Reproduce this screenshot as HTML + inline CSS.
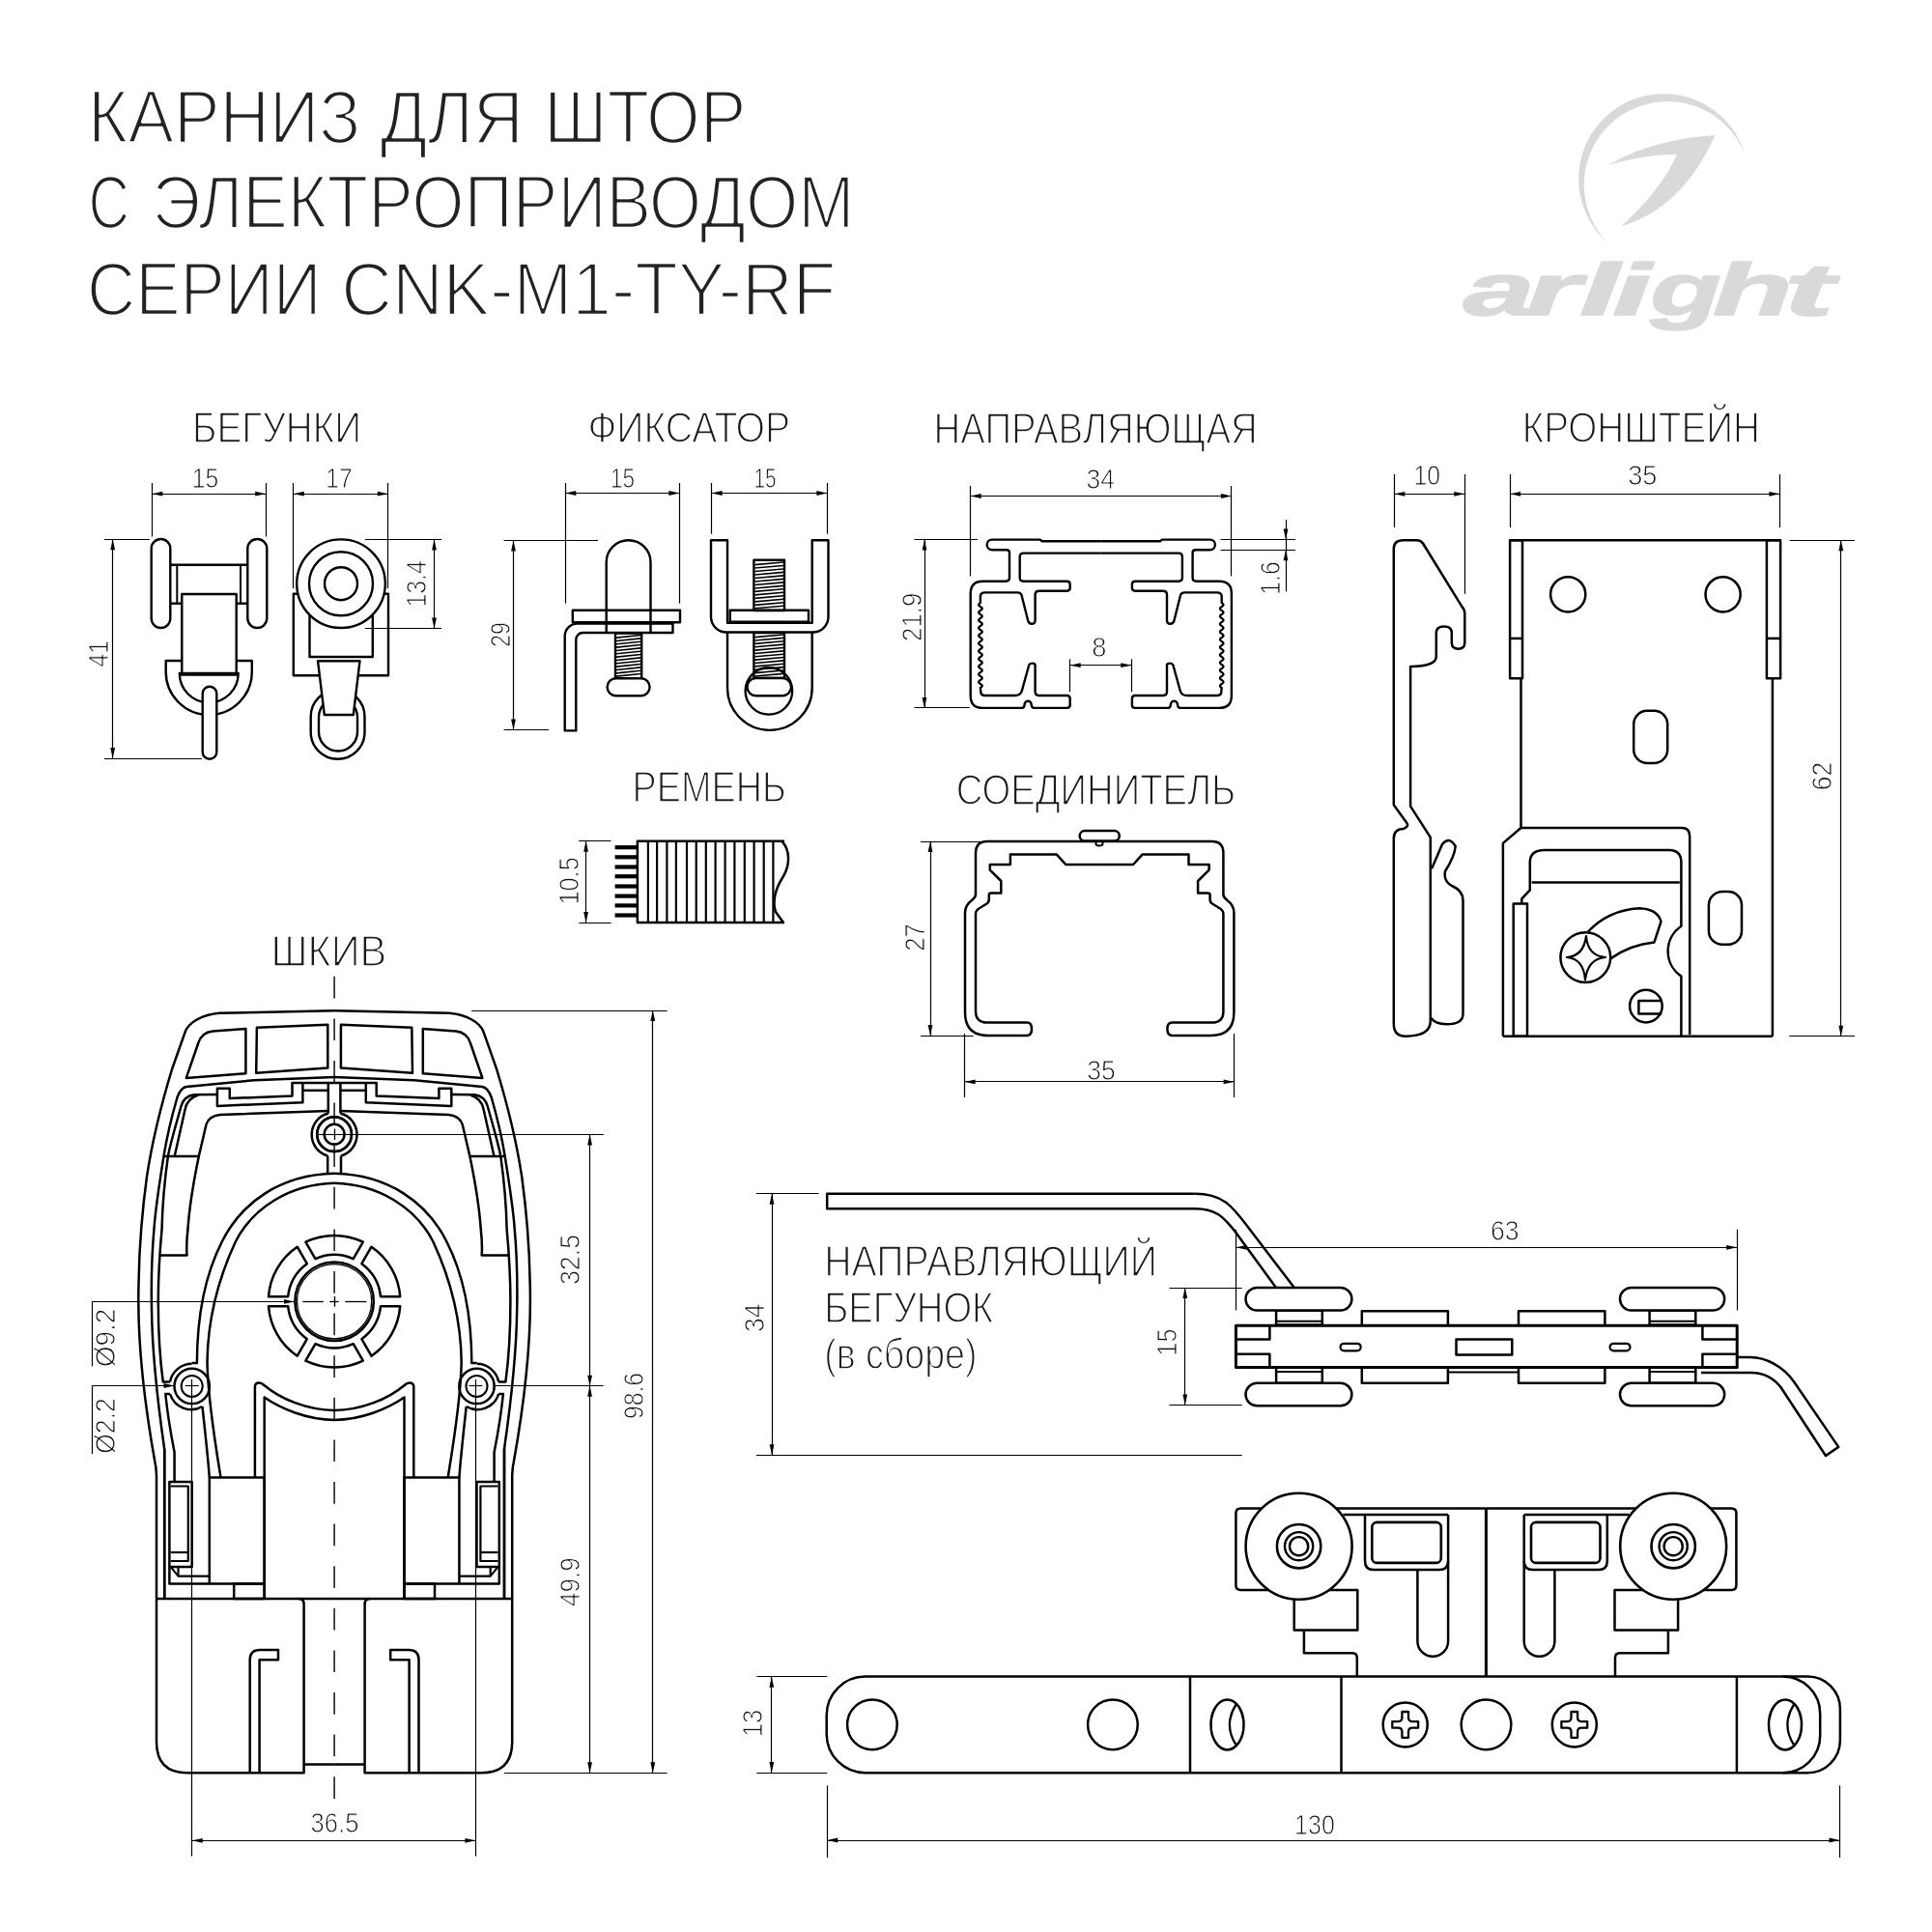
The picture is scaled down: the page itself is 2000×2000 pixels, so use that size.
<!DOCTYPE html>
<html><head><meta charset="utf-8"><title>CNK-M1-TY-RF</title>
<style>
html,body{margin:0;padding:0;background:#fff;width:2000px;height:2000px;overflow:hidden}
svg{display:block;will-change:transform}
.t{font-family:"Liberation Sans",sans-serif;fill:#111;stroke:none}
.h1{font-family:"Liberation Sans",sans-serif;fill:#222;stroke:#fff;stroke-width:2.6px;}
.h2{font-family:"Liberation Sans",sans-serif;fill:#1a1a1a;stroke:#fff;stroke-width:1.5px}
.d{font-family:"Liberation Sans",sans-serif;fill:#111;stroke:#fff;stroke-width:0.9px}
</style></head>
<body><svg width="2000" height="2000" viewBox="0 0 2000 2000">
<rect x="0" y="0" width="2000" height="2000" fill="#fff"/>
<g stroke="#000" fill="none" stroke-linecap="butt" stroke-linejoin="round">
<text class="h1" x="91" y="147.5" font-size="77" text-anchor="start" textLength="282.25" lengthAdjust="spacingAndGlyphs" >КАРНИЗ</text>
<text class="h1" x="393.5" y="147.5" font-size="77" text-anchor="start" textLength="148.5" lengthAdjust="spacingAndGlyphs" >ДЛЯ</text>
<text class="h1" x="563" y="147.5" font-size="77" text-anchor="start" textLength="209.5" lengthAdjust="spacingAndGlyphs" >ШТОР</text>
<text class="h1" x="91.5" y="236" font-size="77" text-anchor="start" textLength="42.5" lengthAdjust="spacingAndGlyphs" >С</text>
<text class="h1" x="157.5" y="236" font-size="77" text-anchor="start" textLength="727" lengthAdjust="spacingAndGlyphs" >ЭЛЕКТРОПРИВОДОМ</text>
<text class="h1" x="90" y="325.5" font-size="77" text-anchor="start" textLength="242.75" lengthAdjust="spacingAndGlyphs" >СЕРИИ</text>
<text class="h1" x="353.25" y="325.5" font-size="77" text-anchor="start" textLength="512" lengthAdjust="spacingAndGlyphs" >CNK-M1-TY-RF</text>
<path d="M1663.6,250.8 A88,88 0 1 1 1806.4,159.7 A86.3,86.3 0 1 0 1663.6,250.8 Z" fill="#d9d9d9" stroke="none"/>
<path d="M1665.6,171.1 C1690,155 1730,143 1775.4,140 C1760,175 1730,220 1678,234.2 C1705,210 1725,185 1736,159.7 C1715,160 1690,163 1665.6,171.1 Z" fill="#d9d9d9" stroke="none"/>
<text transform="translate(1514.85,325.6) scale(1.7494,1)" x="0" y="0" font-size="76" font-weight="bold" font-style="italic" style="font-family:'Liberation Sans',sans-serif;fill:#d9d9d9;stroke:#d9d9d9;stroke-width:1.5">a</text>
<text transform="translate(1579.30,325.6) scale(1.9257,1)" x="0" y="0" font-size="76" font-weight="bold" font-style="italic" style="font-family:'Liberation Sans',sans-serif;fill:#d9d9d9;stroke:#d9d9d9;stroke-width:1.5">r</text>
<text transform="translate(1635.15,325.6) scale(1.9607,1)" x="0" y="0" font-size="76" font-weight="bold" font-style="italic" style="font-family:'Liberation Sans',sans-serif;fill:#d9d9d9;stroke:#d9d9d9;stroke-width:1.5">l</text>
<text transform="translate(1669.31,325.6) scale(1.9133,1)" x="0" y="0" font-size="76" font-weight="bold" font-style="italic" style="font-family:'Liberation Sans',sans-serif;fill:#d9d9d9;stroke:#d9d9d9;stroke-width:1.5">i</text>
<text transform="translate(1708.41,325.6) scale(1.5754,1)" x="0" y="0" font-size="76" font-weight="bold" font-style="italic" style="font-family:'Liberation Sans',sans-serif;fill:#d9d9d9;stroke:#d9d9d9;stroke-width:1.5">g</text>
<text transform="translate(1773.09,325.6) scale(1.7766,1)" x="0" y="0" font-size="76" font-weight="bold" font-style="italic" style="font-family:'Liberation Sans',sans-serif;fill:#d9d9d9;stroke:#d9d9d9;stroke-width:1.5">h</text>
<text transform="translate(1846.41,325.6) scale(2.0635,1)" x="0" y="0" font-size="76" font-weight="bold" font-style="italic" style="font-family:'Liberation Sans',sans-serif;fill:#d9d9d9;stroke:#d9d9d9;stroke-width:1.5">t</text>
<text class="h2" x="199.1" y="457.6" font-size="43.5" text-anchor="start" textLength="175" lengthAdjust="spacingAndGlyphs" >БЕГУНКИ</text>
<text class="d" x="198.7" y="504.6" font-size="29" text-anchor="start" textLength="27.5" lengthAdjust="spacingAndGlyphs" >15</text>
<text class="d" x="337.2" y="504.6" font-size="29" text-anchor="start" textLength="27.5" lengthAdjust="spacingAndGlyphs" >17</text>
<line x1="157.4" y1="511.5" x2="275.2" y2="511.5" stroke-width="1.2" />
<path d="M157.4,511.2 L168.4,508.8 L168.4,513.6 Z" fill="#000" stroke="none"/>
<path d="M275.2,511.2 L264.2,513.6 L264.2,508.8 Z" fill="#000" stroke="none"/>
<line x1="303.8" y1="511.5" x2="401.8" y2="511.5" stroke-width="1.2" />
<path d="M303.8,511.2 L314.8,508.8 L314.8,513.6 Z" fill="#000" stroke="none"/>
<path d="M401.8,511.2 L390.8,513.6 L390.8,508.8 Z" fill="#000" stroke="none"/>
<line x1="157.5" y1="500" x2="157.5" y2="555.5" stroke-width="1.2" />
<line x1="275.5" y1="500" x2="275.5" y2="555.5" stroke-width="1.2" />
<line x1="303.5" y1="500" x2="303.5" y2="609" stroke-width="1.2" />
<line x1="401.5" y1="500" x2="401.5" y2="609" stroke-width="1.2" />
<line x1="116.5" y1="558.3" x2="116.5" y2="785" stroke-width="1.2" />
<path d="M116.7,558.3 L119.1,569.3 L114.3,569.3 Z" fill="#000" stroke="none"/>
<path d="M116.7,785 L114.3,774 L119.1,774 Z" fill="#000" stroke="none"/>
<line x1="108" y1="558.5" x2="155" y2="558.5" stroke-width="1.2" />
<line x1="108" y1="785.5" x2="209" y2="785.5" stroke-width="1.2" />
<text class="d" x="101.7" y="686.68" font-size="29" text-anchor="middle" textLength="27.5" lengthAdjust="spacingAndGlyphs" transform="rotate(-90 101.7 676.7)">41</text>
<line x1="176.3" y1="584.7" x2="256.3" y2="584.7" stroke-width="2.4" />
<line x1="176.3" y1="624.7" x2="188.3" y2="624.7" stroke-width="2.4" />
<line x1="244.7" y1="624.7" x2="256.3" y2="624.7" stroke-width="2.4" />
<line x1="183.3" y1="584.7" x2="183.3" y2="624.7" stroke-width="2" />
<line x1="249" y1="584.7" x2="249" y2="624.7" stroke-width="2" />
<rect x="156.7" y="558" width="19.6" height="92" rx="9.8" stroke-width="2.4" fill="#fff" />
<rect x="256.3" y="558" width="20" height="92" rx="10" stroke-width="2.4" fill="#fff" />
<rect x="188.3" y="615" width="56.4" height="83.3" rx="0" stroke-width="2.4" fill="#fff" />
<path d="M188.3,684 H171.7 V695.5 A44.55,44.55 0 0 0 260.8,695.5 V684 H244.7" stroke-width="2.4" fill="none" />
<path d="M185.8,697 A30.45,30.45 0 0 0 246.7,697 Z" stroke-width="2.4" fill="#fff" />
<line x1="185.8" y1="698.3" x2="246.7" y2="698.3" stroke-width="2.8" />
<rect x="209.7" y="710.8" width="14.6" height="75" rx="7.3" stroke-width="2.4" fill="#fff" />
<rect x="303.8" y="614.7" width="98.2" height="84.5" rx="0" stroke-width="2.4" fill="none" />
<rect x="320.5" y="630" width="65.3" height="50" rx="0" stroke-width="2.4" fill="none" />
<circle cx="353" cy="604.2" r="45.8" stroke-width="2.4" fill="#fff" />
<circle cx="353" cy="604.2" r="33" stroke-width="2.4" fill="none" />
<circle cx="353" cy="604.2" r="17" stroke-width="2.4" fill="none" />
<rect x="321.7" y="714" width="55.8" height="71.8" rx="27.9" stroke-width="2.4" fill="none" />
<rect x="330" y="722.5" width="40" height="55" rx="20" stroke-width="2.4" fill="none" />
<path d="M329,684.2 H372.5 L365.8,740 H335.8 Z" stroke-width="2.4" fill="#fff" />
<line x1="377.9" y1="558.5" x2="457.1" y2="558.5" stroke-width="1.2" />
<line x1="377.9" y1="650.5" x2="457.1" y2="650.5" stroke-width="1.2" />
<line x1="449.5" y1="558.5" x2="449.5" y2="650.4" stroke-width="1.2" />
<path d="M449.5,558.5 L451.9,569.5 L447.1,569.5 Z" fill="#000" stroke="none"/>
<path d="M449.5,650.4 L447.1,639.4 L451.9,639.4 Z" fill="#000" stroke="none"/>
<text class="d" x="431.5" y="614.38" font-size="29" text-anchor="middle" textLength="48.3" lengthAdjust="spacingAndGlyphs" transform="rotate(-90 431.5 604.4)">13.4</text>
<text class="h2" x="608.5" y="457.9" font-size="43.5" text-anchor="start" textLength="209.7" lengthAdjust="spacingAndGlyphs" >ФИКСАТОР</text>
<text class="d" x="631.9" y="504.6" font-size="29" text-anchor="start" textLength="25.2" lengthAdjust="spacingAndGlyphs" >15</text>
<text class="d" x="780.5" y="504.6" font-size="29" text-anchor="start" textLength="23.2" lengthAdjust="spacingAndGlyphs" >15</text>
<line x1="585.3" y1="510.5" x2="703.4" y2="510.5" stroke-width="1.2" />
<path d="M585.3,510.5 L596.3,508.1 L596.3,512.9 Z" fill="#000" stroke="none"/>
<path d="M703.4,510.5 L692.4,512.9 L692.4,508.1 Z" fill="#000" stroke="none"/>
<line x1="736.6" y1="510.5" x2="856.4" y2="510.5" stroke-width="1.2" />
<path d="M736.6,510.5 L747.6,508.1 L747.6,512.9 Z" fill="#000" stroke="none"/>
<path d="M856.4,510.5 L845.4,512.9 L845.4,508.1 Z" fill="#000" stroke="none"/>
<line x1="585.5" y1="500" x2="585.5" y2="624.6" stroke-width="1.2" />
<line x1="703.5" y1="500" x2="703.5" y2="624.6" stroke-width="1.2" />
<line x1="736.5" y1="500" x2="736.5" y2="552.7" stroke-width="1.2" />
<line x1="856.5" y1="500" x2="856.5" y2="552.7" stroke-width="1.2" />
<line x1="531.5" y1="559.6" x2="531.5" y2="755.4" stroke-width="1.2" />
<path d="M531.5,559.6 L533.9,570.6 L529.1,570.6 Z" fill="#000" stroke="none"/>
<path d="M531.5,755.4 L529.1,744.4 L533.9,744.4 Z" fill="#000" stroke="none"/>
<line x1="521.6" y1="559.5" x2="619" y2="559.5" stroke-width="1.2" />
<line x1="521.6" y1="755.5" x2="568" y2="755.5" stroke-width="1.2" />
<text class="d" x="518.4" y="666.98" font-size="29" text-anchor="middle" textLength="25.5" lengthAdjust="spacingAndGlyphs" transform="rotate(-90 518.4 657)">29</text>
<path d="M584.7,756.4 V658.6 A13,13 0 0 1 597.7,645.6 H696.5 V655 H603.3 A7,7 0 0 0 596.3,662 V756.4 Z" stroke-width="2.4" fill="none" />
<rect x="592.8" y="631.7" width="111.2" height="12.6" rx="0" stroke-width="2.4" fill="none" />
<path d="M627.7,654.5 V582.1 A22.9,22.9 0 0 1 673.5,582.1 V654.5" stroke-width="2.4" fill="none" />
<rect x="637" y="655.5" width="27.2" height="46.7" rx="0" stroke-width="2.4" fill="none" />
<line x1="638" y1="660.14" x2="663.2" y2="657.54" stroke-width="1.6" />
<line x1="638" y1="663.47" x2="663.2" y2="660.87" stroke-width="1.6" />
<line x1="638" y1="666.81" x2="663.2" y2="664.21" stroke-width="1.6" />
<line x1="638" y1="670.14" x2="663.2" y2="667.54" stroke-width="1.6" />
<line x1="638" y1="673.48" x2="663.2" y2="670.88" stroke-width="1.6" />
<line x1="638" y1="676.81" x2="663.2" y2="674.21" stroke-width="1.6" />
<line x1="638" y1="680.15" x2="663.2" y2="677.55" stroke-width="1.6" />
<line x1="638" y1="683.49" x2="663.2" y2="680.89" stroke-width="1.6" />
<line x1="638" y1="686.82" x2="663.2" y2="684.22" stroke-width="1.6" />
<line x1="638" y1="690.16" x2="663.2" y2="687.56" stroke-width="1.6" />
<line x1="638" y1="693.49" x2="663.2" y2="690.89" stroke-width="1.6" />
<line x1="638" y1="696.83" x2="663.2" y2="694.23" stroke-width="1.6" />
<line x1="638" y1="700.16" x2="663.2" y2="697.56" stroke-width="1.6" />
<rect x="628.6" y="702.2" width="44" height="18.1" rx="9" stroke-width="2.4" fill="#fff" />
<path d="M736,559.2 V638.5 A16,16 0 0 0 752,654.5 H841.5 A16,16 0 0 0 857.5,638.5 V559.2 H840.7 V644.8 H753 V559.2 Z" stroke-width="2.4" fill="none" />
<rect x="755.7" y="631.7" width="81.3" height="12" rx="0" stroke-width="2.4" fill="none" />
<rect x="780.4" y="579.8" width="31.6" height="52.2" rx="0" stroke-width="2.4" fill="none" />
<line x1="781.4" y1="584.58" x2="811" y2="581.98" stroke-width="1.6" />
<line x1="781.4" y1="588.06" x2="811" y2="585.46" stroke-width="1.6" />
<line x1="781.4" y1="591.54" x2="811" y2="588.94" stroke-width="1.6" />
<line x1="781.4" y1="595.02" x2="811" y2="592.42" stroke-width="1.6" />
<line x1="781.4" y1="598.5" x2="811" y2="595.9" stroke-width="1.6" />
<line x1="781.4" y1="601.98" x2="811" y2="599.38" stroke-width="1.6" />
<line x1="781.4" y1="605.46" x2="811" y2="602.86" stroke-width="1.6" />
<line x1="781.4" y1="608.94" x2="811" y2="606.34" stroke-width="1.6" />
<line x1="781.4" y1="612.42" x2="811" y2="609.82" stroke-width="1.6" />
<line x1="781.4" y1="615.9" x2="811" y2="613.3" stroke-width="1.6" />
<line x1="781.4" y1="619.38" x2="811" y2="616.78" stroke-width="1.6" />
<line x1="781.4" y1="622.86" x2="811" y2="620.26" stroke-width="1.6" />
<line x1="781.4" y1="626.34" x2="811" y2="623.74" stroke-width="1.6" />
<line x1="781.4" y1="629.82" x2="811" y2="627.22" stroke-width="1.6" />
<path d="M753,654.5 V712 A43.85,43.85 0 0 0 840.7,712 V654.5" stroke-width="2.4" fill="none" />
<rect x="780.4" y="655" width="31.6" height="47" rx="0" stroke-width="2.4" fill="none" />
<line x1="781.4" y1="659.66" x2="811" y2="657.06" stroke-width="1.6" />
<line x1="781.4" y1="663.01" x2="811" y2="660.41" stroke-width="1.6" />
<line x1="781.4" y1="666.37" x2="811" y2="663.77" stroke-width="1.6" />
<line x1="781.4" y1="669.73" x2="811" y2="667.13" stroke-width="1.6" />
<line x1="781.4" y1="673.09" x2="811" y2="670.49" stroke-width="1.6" />
<line x1="781.4" y1="676.44" x2="811" y2="673.84" stroke-width="1.6" />
<line x1="781.4" y1="679.8" x2="811" y2="677.2" stroke-width="1.6" />
<line x1="781.4" y1="683.16" x2="811" y2="680.56" stroke-width="1.6" />
<line x1="781.4" y1="686.51" x2="811" y2="683.91" stroke-width="1.6" />
<line x1="781.4" y1="689.87" x2="811" y2="687.27" stroke-width="1.6" />
<line x1="781.4" y1="693.23" x2="811" y2="690.63" stroke-width="1.6" />
<line x1="781.4" y1="696.59" x2="811" y2="693.99" stroke-width="1.6" />
<line x1="781.4" y1="699.94" x2="811" y2="697.34" stroke-width="1.6" />
<circle cx="795.9" cy="715.3" r="24.3" stroke-width="2.4" fill="none" />
<rect x="773.5" y="702" width="45.5" height="18.3" rx="9" stroke-width="2.4" fill="#fff" />
<text class="h2" x="966.5" y="458.9" font-size="43.5" text-anchor="start" textLength="335.2" lengthAdjust="spacingAndGlyphs" >НАПРАВЛЯЮЩАЯ</text>
<text class="d" x="1124.5" y="505.9" font-size="29" text-anchor="start" textLength="29.4" lengthAdjust="spacingAndGlyphs" >34</text>
<line x1="1004.7" y1="513.5" x2="1274.9" y2="513.5" stroke-width="1.2" />
<path d="M1004.7,513.5 L1015.7,511.1 L1015.7,515.9 Z" fill="#000" stroke="none"/>
<path d="M1274.9,513.5 L1263.9,515.9 L1263.9,511.1 Z" fill="#000" stroke="none"/>
<line x1="1004.5" y1="503" x2="1004.5" y2="596.4" stroke-width="1.2" />
<line x1="1274.5" y1="503" x2="1274.5" y2="596.4" stroke-width="1.2" />
<line x1="957.5" y1="558.6" x2="957.5" y2="732.9" stroke-width="1.2" />
<path d="M957,558.6 L959.4,569.6 L954.6,569.6 Z" fill="#000" stroke="none"/>
<path d="M957,732.9 L954.6,721.9 L959.4,721.9 Z" fill="#000" stroke="none"/>
<line x1="946.4" y1="558.5" x2="1012" y2="558.5" stroke-width="1.2" />
<line x1="946.4" y1="732.5" x2="1003.7" y2="732.5" stroke-width="1.2" />
<text class="d" x="944" y="648.78" font-size="29" text-anchor="middle" textLength="50.2" lengthAdjust="spacingAndGlyphs" transform="rotate(-90 944 638.8)">21.9</text>
<line x1="1263.6" y1="558.5" x2="1341" y2="558.5" stroke-width="1.2" />
<line x1="1263.6" y1="569.5" x2="1341" y2="569.5" stroke-width="1.2" />
<line x1="1331.5" y1="538" x2="1331.5" y2="612.3" stroke-width="1.2" />
<path d="M1331,558.6 L1328.6,547.6 L1333.4,547.6 Z" fill="#000" stroke="none"/>
<path d="M1331,569.2 L1333.4,580.2 L1328.6,580.2 Z" fill="#000" stroke="none"/>
<text class="d" x="1314.6" y="608.48" font-size="29" text-anchor="middle" textLength="34.3" lengthAdjust="spacingAndGlyphs" transform="rotate(-90 1314.6 598.5)">1.6</text>
<line x1="1107.7" y1="688.5" x2="1171.3" y2="688.5" stroke-width="1.2" />
<path d="M1107.7,688.7 L1118.7,686.3 L1118.7,691.1 Z" fill="#000" stroke="none"/>
<path d="M1171.3,688.7 L1160.3,691.1 L1160.3,686.3 Z" fill="#000" stroke="none"/>
<line x1="1107.5" y1="682.4" x2="1107.5" y2="716.3" stroke-width="1.2" />
<line x1="1171.5" y1="682.4" x2="1171.5" y2="716.3" stroke-width="1.2" />
<text class="d" x="1130.2" y="680.1" font-size="29" text-anchor="start" textLength="15.2" lengthAdjust="spacingAndGlyphs" >8</text>
<g id="railhalf"><path d="M1139.8,560.3 H1078.7 L1076.6,558.6 H1027 A5.3,5.3 0 0 0 1027,569.2 H1042 Q1045,569.2 1045,572.2 V598 Q1045,601.7 1041,601.7 H1017.4 Q1004.7,601.7 1004.7,614.4 V720.2 Q1004.7,732.9 1017.4,732.9 H1058 Q1060.5,732.9 1060.6,729.3 A3.55,3.55 0 0 1 1067.7,729.3 Q1067.8,732.9 1070.3,732.9 H1104.5 Q1107.7,732.9 1107.7,729.7 V723.3 Q1107.7,720 1104.5,720 H1075.6 Q1071.6,720 1071.6,716 V688.5 Q1071.6,686.6 1068.4,686.6 Q1066,686.6 1065.2,688.5 L1057.8,715.2 Q1056.4,720 1050.4,720 H1019.5 Q1015.3,720 1015.3,716  L1014.9,712 Q1018.5,710 1014.9,708 Q1011.3,706 1014.9,704 Q1018.5,702 1014.9,700 Q1011.3,698 1014.9,696 Q1018.5,694 1014.9,692 Q1011.3,690 1014.9,688 Q1018.5,686 1014.9,684 Q1011.3,682 1014.9,680 Q1018.5,678 1014.9,676 Q1011.3,674 1014.9,672 Q1018.5,670 1014.9,668 Q1011.3,666 1014.9,664 Q1018.5,662 1014.9,660 Q1011.3,658 1014.9,656 Q1018.5,654 1014.9,652 Q1011.3,650 1014.9,648 Q1018.5,646 1014.9,644 Q1011.3,642 1014.9,640 Q1018.5,638 1014.9,636 Q1011.3,634 1014.9,632 Q1018.5,630 1014.9,628 Q1011.3,626 1014.9,624 V617 Q1015.3,613.4 1019.5,613.4 H1053 Q1056.7,613.4 1057.5,616 L1064.3,643 Q1065.5,645.8 1068,645.8 Q1071.6,645.8 1071.6,642 V615.5 Q1071.6,611.7 1075.5,611.7 H1104.5 Q1107.7,611.7 1107.7,608.5 V604.9 Q1107.7,601.7 1104.5,601.7 H1059.5 Q1055.7,601.7 1055.7,598 V576.4 Q1055.7,572.6 1059.5,572.6 H1139.8" stroke-width="2.4" fill="none"/></g>
<use href="#railhalf" transform="translate(2279.6,0) scale(-1,1)"/>
<text class="h2" x="1575.7" y="457.9" font-size="43.5" text-anchor="start" textLength="246.3" lengthAdjust="spacingAndGlyphs" >КРОНШТЕЙН</text>
<text class="d" x="1463.5" y="502.3" font-size="29" text-anchor="start" textLength="27.6" lengthAdjust="spacingAndGlyphs" >10</text>
<text class="d" x="1685.2" y="502.3" font-size="29" text-anchor="start" textLength="30.2" lengthAdjust="spacingAndGlyphs" >35</text>
<line x1="1443.3" y1="511.5" x2="1516.3" y2="511.5" stroke-width="1.2" />
<path d="M1443.3,511.3 L1454.3,508.9 L1454.3,513.7 Z" fill="#000" stroke="none"/>
<path d="M1516.3,511.3 L1505.3,513.7 L1505.3,508.9 Z" fill="#000" stroke="none"/>
<line x1="1563.1" y1="511.5" x2="1842.4" y2="511.5" stroke-width="1.2" />
<path d="M1563.1,511.3 L1574.1,508.9 L1574.1,513.7 Z" fill="#000" stroke="none"/>
<path d="M1842.4,511.3 L1831.4,513.7 L1831.4,508.9 Z" fill="#000" stroke="none"/>
<line x1="1443.5" y1="491" x2="1443.5" y2="546" stroke-width="1.2" />
<line x1="1516.5" y1="491" x2="1516.5" y2="614.8" stroke-width="1.2" />
<line x1="1563.5" y1="491" x2="1563.5" y2="546" stroke-width="1.2" />
<line x1="1842.5" y1="491" x2="1842.5" y2="546" stroke-width="1.2" />
<line x1="1905.5" y1="559.2" x2="1905.5" y2="1072.7" stroke-width="1.2" />
<path d="M1905.8,559.2 L1908.2,570.2 L1903.4,570.2 Z" fill="#000" stroke="none"/>
<path d="M1905.8,1072.7 L1903.4,1061.7 L1908.2,1061.7 Z" fill="#000" stroke="none"/>
<line x1="1852.7" y1="559.5" x2="1920" y2="559.5" stroke-width="1.2" />
<line x1="1852.2" y1="1072.5" x2="1920" y2="1072.5" stroke-width="1.2" />
<text class="d" x="1885.8" y="813.48" font-size="29" text-anchor="middle" textLength="29.4" lengthAdjust="spacingAndGlyphs" transform="rotate(-90 1885.8 803.5)">62</text>
<line x1="1563" y1="559.2" x2="1843" y2="559.2" stroke-width="2.5" />
<rect x="1563.1" y="559.2" width="12.9" height="143.1" rx="0" stroke-width="2.5" fill="none" />
<line x1="1563.1" y1="660.9" x2="1576" y2="660.9" stroke-width="2.5" />
<rect x="1828.9" y="559.2" width="14.2" height="143.1" rx="0" stroke-width="2.5" fill="none" />
<line x1="1828.9" y1="660.9" x2="1843.1" y2="660.9" stroke-width="2.5" />
<circle cx="1623.2" cy="615.3" r="18.1" stroke-width="2.5" fill="none" />
<circle cx="1783.6" cy="615.3" r="18.1" stroke-width="2.5" fill="none" />
<line x1="1574.5" y1="702.3" x2="1574.5" y2="857" stroke-width="2.5" />
<line x1="1834.9" y1="702.3" x2="1834.9" y2="1072.7" stroke-width="2.5" />
<line x1="1555.9" y1="1072.7" x2="1834.9" y2="1072.7" stroke-width="2.5" />
<rect x="1691.2" y="735.7" width="35" height="54.3" rx="14" stroke-width="2.5" fill="none" />
<rect x="1768.9" y="923" width="34.1" height="54.7" rx="14" stroke-width="2.5" fill="none" />
<path d="M1749.2,1071 V865.6 Q1749.2,857 1741,857 H1574.5 L1555.9,872.9 V1072.7" stroke-width="2.5" fill="none" />
<path d="M1575.3,935.5 V930.3 L1583.8,921.3 V892.8 Q1583.8,879.9 1598.6,879.9 H1728 Q1740.4,879.9 1740.4,892.8 V958.8 A31.3,31.3 0 0 0 1740.4,1010.6 V1072.7" stroke-width="2.5" fill="none" />
<line x1="1585.6" y1="913.5" x2="1738.8" y2="913.5" stroke-width="2.5" />
<rect x="1566.7" y="935.5" width="14.3" height="137.2" rx="0" stroke-width="2.5" fill="none" />
<circle cx="1641.3" cy="991.1" r="25.9" stroke-width="2.5" fill="none" />
<path d="M1642,969 Q1643.5,989.5 1662,991 Q1643.5,992.5 1641,1014.4 Q1639.5,992.5 1621.9,991 Q1639.5,989.5 1642,969 Z" stroke-width="2.2" fill="none" />
<path d="M1643.9,964.5 Q1665,942 1697,940.2 Q1716,941 1719.5,954 L1712.4,975.6 Q1688,978 1667.2,992.4" stroke-width="2.5" fill="none" />
<circle cx="1703.9" cy="1041.6" r="16.8" stroke-width="2.5" fill="none" />
<path d="M1720.2,1035.9 H1696.4 V1049.4 H1720.2" stroke-width="2.5" fill="none" />
<path d="M1452.4,559.2 H1466.6 Q1471,559.2 1473,562.5 L1513.2,627.7 Q1516.3,631 1516.3,635.5 V665.3 Q1516.3,671.7 1509.6,671.7 Q1502.8,671.7 1502.8,665.3 V655 Q1502.8,648.4 1495,648.4 Q1486.8,648.4 1486.8,655 V679.5 Q1486.8,689.9 1460.1,689.9 V834.6 L1480.8,866.9 V1057.1 Q1480.8,1072.7 1455,1072.7 Q1442.8,1072.7 1442.8,1060 V868.2 Q1442.8,857.9 1453,857.9 Q1459,855.5 1456.2,851.7 L1442.8,833.3 V568.2 Q1442.8,559.2 1452.4,559.2 Z" stroke-width="2.5" fill="none" />
<path d="M1482.1,899.3 L1493,874 Q1500,865 1506.7,876 Q1506,886 1496,902 Q1494,912 1503,917 Q1514.5,922 1514.5,932 V1049.4 Q1514.5,1060.2 1497.6,1060.2 Q1486,1060.2 1481.5,1054" stroke-width="2.5" fill="none" />
<text class="h2" x="654.6" y="830" font-size="43.5" text-anchor="start" textLength="159.1" lengthAdjust="spacingAndGlyphs" >РЕМЕНЬ</text>
<line x1="606.5" y1="870.8" x2="606.5" y2="955" stroke-width="1.2" />
<path d="M606.6,870.8 L609,881.8 L604.2,881.8 Z" fill="#000" stroke="none"/>
<path d="M606.6,955 L604.2,944 L609,944 Z" fill="#000" stroke="none"/>
<line x1="599.3" y1="870.5" x2="632.6" y2="870.5" stroke-width="1.2" />
<line x1="599.3" y1="955.5" x2="632.6" y2="955.5" stroke-width="1.2" />
<text class="d" x="588.8" y="921.88" font-size="29" text-anchor="middle" textLength="49.3" lengthAdjust="spacingAndGlyphs" transform="rotate(-90 588.8 911.9)">10.5</text>
<path d="M812,870.8 H659.9 V955 H812" stroke-width="2.5" fill="none" />
<path d="M809.5,870.8 C818,880 818,895 811,907 C804,918 799,932 803,944 L810.9,955" stroke-width="2.5" fill="none" />
<line x1="670.9" y1="870.8" x2="670.9" y2="955" stroke-width="2.2" />
<line x1="680.1" y1="870.8" x2="680.1" y2="955" stroke-width="2.2" />
<line x1="690.4" y1="870.8" x2="690.4" y2="955" stroke-width="2.2" />
<line x1="699.9" y1="870.8" x2="699.9" y2="955" stroke-width="2.2" />
<line x1="711" y1="870.8" x2="711" y2="955" stroke-width="2.2" />
<line x1="720.7" y1="870.8" x2="720.7" y2="955" stroke-width="2.2" />
<line x1="730.8" y1="870.8" x2="730.8" y2="955" stroke-width="2.2" />
<line x1="740.6" y1="870.8" x2="740.6" y2="955" stroke-width="2.2" />
<line x1="750.6" y1="870.8" x2="750.6" y2="955" stroke-width="2.2" />
<line x1="760.4" y1="870.8" x2="760.4" y2="955" stroke-width="2.2" />
<line x1="770.8" y1="870.8" x2="770.8" y2="955" stroke-width="2.2" />
<line x1="780.6" y1="870.8" x2="780.6" y2="955" stroke-width="2.2" />
<line x1="790.7" y1="870.8" x2="790.7" y2="955" stroke-width="2.2" />
<line x1="800.4" y1="870.8" x2="800.4" y2="955" stroke-width="2.2" />
<rect x="636.6" y="875.1" width="23.3" height="4.2" fill="#000" stroke="none"/>
<rect x="636.6" y="885.2" width="23.3" height="4.2" fill="#000" stroke="none"/>
<rect x="636.6" y="895.4" width="23.3" height="4.2" fill="#000" stroke="none"/>
<rect x="636.6" y="905.1" width="23.3" height="4.2" fill="#000" stroke="none"/>
<rect x="636.6" y="915.4" width="23.3" height="4.2" fill="#000" stroke="none"/>
<rect x="636.6" y="925.5" width="23.3" height="4.2" fill="#000" stroke="none"/>
<rect x="636.6" y="935.3" width="23.3" height="4.2" fill="#000" stroke="none"/>
<rect x="636.6" y="945.4" width="23.3" height="4.2" fill="#000" stroke="none"/>
<text class="h2" x="989.7" y="832.6" font-size="43.5" text-anchor="start" textLength="289.5" lengthAdjust="spacingAndGlyphs" >СОЕДИНИТЕЛЬ</text>
<line x1="963.5" y1="871" x2="963.5" y2="1072" stroke-width="1.2" />
<path d="M963,871 L965.4,882 L960.6,882 Z" fill="#000" stroke="none"/>
<path d="M963,1072 L960.6,1061 L965.4,1061 Z" fill="#000" stroke="none"/>
<line x1="953" y1="871.5" x2="1015" y2="871.5" stroke-width="1.2" />
<line x1="953" y1="1072.5" x2="1007.6" y2="1072.5" stroke-width="1.2" />
<text class="d" x="947.2" y="980.48" font-size="29" text-anchor="middle" textLength="28.5" lengthAdjust="spacingAndGlyphs" transform="rotate(-90 947.2 970.5)">27</text>
<line x1="998.6" y1="1119.5" x2="1277.6" y2="1119.5" stroke-width="1.2" />
<path d="M998.6,1119.9 L1009.6,1117.5 L1009.6,1122.3 Z" fill="#000" stroke="none"/>
<path d="M1277.6,1119.9 L1266.6,1122.3 L1266.6,1117.5 Z" fill="#000" stroke="none"/>
<line x1="998.5" y1="1070" x2="998.5" y2="1136" stroke-width="1.2" />
<line x1="1277.5" y1="1070" x2="1277.5" y2="1136" stroke-width="1.2" />
<text class="d" x="1125.2" y="1117.9" font-size="29" text-anchor="start" textLength="29.5" lengthAdjust="spacingAndGlyphs" >35</text>
<g id="connhalf"><path d="M1138.2,871 H1022 Q1010,871 1010,883 V926 Q1010,929 1006,932 Q999,937 999,945 V1048 Q999,1072 1023,1072 H1063 Q1068,1072 1068,1065.3 Q1068,1058.6 1063,1058.6 H1022 Q1010,1058.6 1010,1047 V946 Q1010,942 1015,939.5 L1021.5,935.5 Q1023.8,934 1023.8,931 V926.5 Q1023.8,924.6 1026,924.6 H1036.3 V912 L1024.8,900.6 V895 H1045.9 V884.4 H1093.7 L1103.3,895 H1138.2" stroke-width="2.5" fill="none"/></g>
<use href="#connhalf" transform="translate(2276.4,0) scale(-1,1)"/>
<rect x="1117.7" y="860" width="41.1" height="10.5" rx="5.2" stroke-width="2.5" fill="#fff" />
<path d="M1134.5,871.5 V873.5 Q1134.5,875.5 1138,875.5 Q1141.5,875.5 1141.5,873.5 V871.5" stroke-width="2" fill="none" />
<text class="h2" x="280.5" y="1000.1" font-size="43.5" text-anchor="start" textLength="119.7" lengthAdjust="spacingAndGlyphs" >ШКИВ</text>
<g id="pulhalf"><path d="M346.1,1046.3 L226.9,1048.8 C209,1050.5 196,1058 191.9,1067.6 L178,1107 C168,1140 157,1185 152,1218 C147,1255 144,1290 143.5,1330 C142,1385 149,1450 160.5,1514 Q162,1520 162,1530 V1803 Q162,1835.3 194,1835.3 H314.6 V1660.5 Q314.6,1654.9 309,1654.9" stroke-width="2.5" fill="none"/>
<line x1="162" y1="1654.9" x2="346.1" y2="1654.9" stroke-width="2.5"/>
<line x1="314.6" y1="1826.5" x2="346.1" y2="1826.5" stroke-width="2.5"/>
<path d="M192.8,1115.9 L254.4,1111.2 V1065 L220.2,1067.6 C212,1068.5 207,1074 205.2,1080 Z" stroke-width="2.5" fill="none"/>
<path d="M265.2,1110.7 L339.3,1105.5 V1060.7 L265.9,1063.8 Z" stroke-width="2.5" fill="none"/>
<path d="M346.1,1115 L263.2,1118.2 L193,1125 C189,1125.6 186,1129 183.5,1136 C178,1155 173,1175 169.5,1196.9 C165,1225 161,1250 159.5,1272 C157,1300 156.5,1330 157,1355 C157.5,1400 163,1450 170.2,1500 V1654.9" stroke-width="2.5" fill="none"/>
<path d="M346.1,1121 H302.5 V1134.5 L237.8,1137.1 V1126.7 H224.9 V1144.9 L313.4,1141.2 V1121" stroke-width="2.5" fill="none"/>
<line x1="313.4" y1="1128.8" x2="339.8" y2="1128.8" stroke-width="2.5"/>
<path d="M224.9,1133 L201,1133.2 C195,1134 189.5,1138 187.5,1145 C182,1165 176,1185 173.9,1196.9 C170,1225 168,1250 167.6,1272 C165,1300 163.8,1320 163.8,1347 C163.8,1380 166,1410 168.8,1430.5 H176" stroke-width="2.5" fill="none"/>
<path d="M176,1443 H171.3 C174,1470 178,1490 180.6,1503.5 V1534" stroke-width="2.5" fill="none"/>
<path d="M205.2,1133.5 C198,1136 193,1141 191.7,1148 L180.7,1196.9" stroke-width="2.5" fill="none"/>
<line x1="169.5" y1="1196.9" x2="205.8" y2="1196.9" stroke-width="2.5"/>
<path d="M339.8,1150 L227.7,1154 C219,1155 215,1159 213.5,1164 L205.8,1197 C200,1225 196,1250 194.5,1272 C193,1285 193,1292 193.5,1299.4 H166" stroke-width="2.5" fill="none"/>
<line x1="339.8" y1="1121" x2="339.8" y2="1152.5" stroke-width="2.5"/>
<line x1="339.2" y1="1196.5" x2="339.2" y2="1215.5" stroke-width="2.5"/>
<path d="M339.8,1152.5 A22.8,22.8 0 0 0 339.2,1196.5" stroke-width="2.5" fill="none"/>
<circle cx="346.1" cy="1174.2" r="17.9" stroke-width="2.5" fill="none"/>
<path d="M346.1,1214.8 C290,1216 250,1245 230,1285 C212,1320 204,1360 203.9,1411 H198.5" stroke-width="2.5" fill="none"/>
<path d="M346.1,1224.8 C300,1226 262,1250 244,1285 C223,1330 215,1370 214.5,1410 C215,1440 222,1490 228.5,1529.4" stroke-width="2.5" fill="none"/>
<path d="M209.5,1456 C212,1480 215,1505 216.8,1529.4" stroke-width="2.5" fill="none"/>
<path d="M176,1430.5 A23,23 0 0 1 198.5,1411.8" stroke-width="2.5" fill="none"/>
<path d="M176,1443 A23,23 0 0 0 209.5,1456" stroke-width="2.5" fill="none"/>
<circle cx="198.7" cy="1434.9" r="18.2" stroke-width="2.5" fill="none"/>
<circle cx="198.7" cy="1434.9" r="11" stroke-width="2" fill="none"/>
<path d="M263.9,1529.4 V1436 Q263.9,1431.5 268,1431.5 Q271,1431.5 273.5,1434 C290,1448 318,1459.9 346.1,1459.9" stroke-width="2.5" fill="none"/>
<path d="M273.7,1654.9 V1446.6 C290,1458 318,1469.9 346.1,1469.9" stroke-width="2.5" fill="none"/>
<rect x="216.8" y="1529.4" width="56.9" height="110" rx="0" stroke-width="2.5" fill="none"/>
<rect x="242.2" y="1639.4" width="31.5" height="15.5" rx="0" stroke-width="2.5" fill="none"/>
<rect x="175.4" y="1534" width="23.3" height="88" rx="0" stroke-width="2.5" fill="none"/>
<path d="M176.7,1538.5 H194.8 V1616 H176.7" stroke-width="2.2" fill="none"/>
<line x1="176.7" y1="1607" x2="194.8" y2="1607" stroke-width="2.2"/>
<path d="M175.4,1622 V1639.4 H216.8" stroke-width="2.5" fill="none"/>
<path d="M184.5,1622 V1631.6 H216.8" stroke-width="2.2" fill="none"/>
<line x1="176.7" y1="1622" x2="184.5" y2="1631.6" stroke-width="2"/>
<line x1="170.2" y1="1654.9" x2="170.2" y2="1500" stroke-width="2.5"/>
<path d="M258.7,1835.3 V1718.3 Q258.7,1708 269,1708 H288 V1718.3 H268.6 V1835.3" stroke-width="2.5" fill="none"/></g>
<use href="#pulhalf" transform="translate(692.2,0) scale(-1,1)"/>
<circle cx="346.1" cy="1174.2" r="10.4" stroke-width="2.5" fill="none" />
<circle cx="346.1" cy="1347.2" r="40.7" stroke-width="2.6" fill="none" />
<circle cx="346.1" cy="1347.2" r="38.6" stroke-width="1.3" fill="none" />
<path d="M414.22,1352.2 A68.3,68.3 0 0 1 384.49,1403.69 L374.4,1386.22 A48.2,48.2 0 0 0 394.04,1352.2 Z" stroke-width="2.5" fill="none" />
<path d="M375.83,1408.69 A68.3,68.3 0 0 1 316.37,1408.69 L326.46,1391.22 A48.2,48.2 0 0 0 365.74,1391.22 Z" stroke-width="2.5" fill="none" />
<path d="M307.71,1403.69 A68.3,68.3 0 0 1 277.98,1352.2 L298.16,1352.2 A48.2,48.2 0 0 0 317.8,1386.22 Z" stroke-width="2.5" fill="none" />
<path d="M277.98,1342.2 A68.3,68.3 0 0 1 307.71,1290.71 L317.8,1308.18 A48.2,48.2 0 0 0 298.16,1342.2 Z" stroke-width="2.5" fill="none" />
<path d="M316.37,1285.71 A68.3,68.3 0 0 1 375.83,1285.71 L365.74,1303.18 A48.2,48.2 0 0 0 326.46,1303.18 Z" stroke-width="2.5" fill="none" />
<path d="M384.49,1290.71 A68.3,68.3 0 0 1 414.22,1342.2 L394.04,1342.2 A48.2,48.2 0 0 0 374.4,1308.18 Z" stroke-width="2.5" fill="none" />
<line x1="346.1" y1="1010.8" x2="346.1" y2="1862" stroke-width="1.4" stroke-dasharray="22.7 20.9"/>
<line x1="313.3" y1="1347.5" x2="334.9" y2="1347.5" stroke-width="1.3" />
<line x1="341.2" y1="1347.5" x2="350.6" y2="1347.5" stroke-width="1.3" />
<line x1="357.3" y1="1347.5" x2="379.4" y2="1347.5" stroke-width="1.3" />
<line x1="346.5" y1="1342" x2="346.5" y2="1352.6" stroke-width="1.4" />
<line x1="330" y1="1174.5" x2="362" y2="1174.5" stroke-width="1.1" />
<line x1="346.5" y1="1168.5" x2="346.5" y2="1180" stroke-width="1.3" />
<line x1="191.7" y1="1434.5" x2="205.7" y2="1434.5" stroke-width="1.1" />
<line x1="485.4" y1="1434.5" x2="499.4" y2="1434.5" stroke-width="1.1" />
<line x1="198.5" y1="1428" x2="198.5" y2="1921.5" stroke-width="1.2" />
<line x1="492.5" y1="1428" x2="492.5" y2="1921.5" stroke-width="1.2" />
<line x1="198.7" y1="1905.5" x2="492.4" y2="1905.5" stroke-width="1.2" />
<path d="M198.7,1905.3 L209.7,1902.9 L209.7,1907.7 Z" fill="#000" stroke="none"/>
<path d="M492.4,1905.3 L481.4,1907.7 L481.4,1902.9 Z" fill="#000" stroke="none"/>
<text class="d" x="321.6" y="1896.9" font-size="29" text-anchor="start" textLength="49.8" lengthAdjust="spacingAndGlyphs" >36.5</text>
<line x1="362" y1="1174.5" x2="624.8" y2="1174.5" stroke-width="1.2" />
<line x1="510" y1="1434.5" x2="624.6" y2="1434.5" stroke-width="1.2" />
<line x1="610.5" y1="1174.4" x2="610.5" y2="1434.8" stroke-width="1.2" />
<path d="M610.6,1174.4 L613,1185.4 L608.2,1185.4 Z" fill="#000" stroke="none"/>
<path d="M610.6,1434.8 L608.2,1423.8 L613,1423.8 Z" fill="#000" stroke="none"/>
<line x1="610.5" y1="1434.8" x2="610.5" y2="1835.2" stroke-width="1.2" />
<path d="M610.6,1434.8 L613,1445.8 L608.2,1445.8 Z" fill="#000" stroke="none"/>
<path d="M610.6,1835.2 L608.2,1824.2 L613,1824.2 Z" fill="#000" stroke="none"/>
<line x1="522" y1="1835.5" x2="690.6" y2="1835.5" stroke-width="1.2" />
<line x1="488.2" y1="1046.5" x2="690.7" y2="1046.5" stroke-width="1.2" />
<line x1="675.5" y1="1046.1" x2="675.5" y2="1835.2" stroke-width="1.2" />
<path d="M675.8,1046.1 L678.2,1057.1 L673.4,1057.1 Z" fill="#000" stroke="none"/>
<path d="M675.8,1835.2 L673.4,1824.2 L678.2,1824.2 Z" fill="#000" stroke="none"/>
<text class="d" x="589.6" y="1313.98" font-size="29" text-anchor="middle" textLength="52" lengthAdjust="spacingAndGlyphs" transform="rotate(-90 589.6 1304)">32.5</text>
<text class="d" x="589.6" y="1647.58" font-size="29" text-anchor="middle" textLength="50.7" lengthAdjust="spacingAndGlyphs" transform="rotate(-90 589.6 1637.6)">49.9</text>
<text class="d" x="655.6" y="1454.98" font-size="29" text-anchor="middle" textLength="48.2" lengthAdjust="spacingAndGlyphs" transform="rotate(-90 655.6 1445)">98.6</text>
<line x1="95.2" y1="1347.5" x2="305" y2="1347.5" stroke-width="1.2" />
<path d="M305,1347.4 L294,1349.8 L294,1345 Z" fill="#000" stroke="none"/>
<line x1="95.5" y1="1347.4" x2="95.5" y2="1414.4" stroke-width="1.2" />
<line x1="95.2" y1="1434.5" x2="180.5" y2="1434.5" stroke-width="1.2" />
<path d="M180.5,1434.5 L169.5,1436.9 L169.5,1432.1 Z" fill="#000" stroke="none"/>
<line x1="95.5" y1="1434.5" x2="95.5" y2="1505.2" stroke-width="1.2" />
<text class="d" x="109" y="1394.98" font-size="29" text-anchor="middle" textLength="60.7" lengthAdjust="spacingAndGlyphs" transform="rotate(-90 109 1385)">Ø9.2</text>
<text class="d" x="109" y="1485.98" font-size="29" text-anchor="middle" textLength="58" lengthAdjust="spacingAndGlyphs" transform="rotate(-90 109 1476)">Ø2.2</text>
<line x1="799.5" y1="1235.7" x2="799.5" y2="1506.3" stroke-width="1.2" />
<path d="M799,1235.7 L801.4,1246.7 L796.6,1246.7 Z" fill="#000" stroke="none"/>
<path d="M799,1506.3 L796.6,1495.3 L801.4,1495.3 Z" fill="#000" stroke="none"/>
<line x1="782.9" y1="1235.5" x2="847.6" y2="1235.5" stroke-width="1.2" />
<line x1="782.9" y1="1506.5" x2="1285.7" y2="1506.5" stroke-width="1.2" />
<text class="d" x="780.9" y="1374.28" font-size="29" text-anchor="middle" textLength="29.4" lengthAdjust="spacingAndGlyphs" transform="rotate(-90 780.9 1364.3)">34</text>
<path d="M1237.3,1235.7 H856.2 V1251.2 H1237.3 C1258,1251.2 1266,1259 1278.3,1274.5 L1321,1333" stroke-width="2.5" fill="none" />
<path d="M1237.3,1235.7 C1265,1235.7 1275,1248 1289.5,1267.1 L1339.8,1333" stroke-width="2.5" fill="none" />
<text class="h2" x="853.2" y="1321.2" font-size="43.5" text-anchor="start" textLength="344.7" lengthAdjust="spacingAndGlyphs" >НАПРАВЛЯЮЩИЙ</text>
<text class="h2" x="853.2" y="1369.1" font-size="43.5" text-anchor="start" textLength="175.2" lengthAdjust="spacingAndGlyphs" >БЕГУНОК</text>
<text class="h2" x="853.2" y="1417" font-size="43.5" text-anchor="start" textLength="158.3" lengthAdjust="spacingAndGlyphs" >(в сборе)</text>
<line x1="1226.5" y1="1333" x2="1226.5" y2="1454.6" stroke-width="1.2" />
<path d="M1226.8,1333 L1229.2,1344 L1224.4,1344 Z" fill="#000" stroke="none"/>
<path d="M1226.8,1454.6 L1224.4,1443.6 L1229.2,1443.6 Z" fill="#000" stroke="none"/>
<line x1="1210.4" y1="1333.5" x2="1285.7" y2="1333.5" stroke-width="1.2" />
<line x1="1210.4" y1="1454.5" x2="1285.7" y2="1454.5" stroke-width="1.2" />
<text class="d" x="1208" y="1399.58" font-size="29" text-anchor="middle" textLength="28.1" lengthAdjust="spacingAndGlyphs" transform="rotate(-90 1208 1389.6)">15</text>
<line x1="1279.4" y1="1291.5" x2="1798.2" y2="1291.5" stroke-width="1.2" />
<path d="M1279.4,1291.3 L1290.4,1288.9 L1290.4,1293.7 Z" fill="#000" stroke="none"/>
<path d="M1798.2,1291.3 L1787.2,1293.7 L1787.2,1288.9 Z" fill="#000" stroke="none"/>
<line x1="1279.5" y1="1272.7" x2="1279.5" y2="1356.5" stroke-width="1.2" />
<line x1="1798.5" y1="1272.7" x2="1798.5" y2="1356.5" stroke-width="1.2" />
<text class="d" x="1543" y="1283.6" font-size="29" text-anchor="start" textLength="29.6" lengthAdjust="spacingAndGlyphs" >63</text>
<rect x="1321.1" y="1356.5" width="47.7" height="14.9" rx="0" stroke-width="2.5" fill="none" />
<line x1="1321.1" y1="1367.7" x2="1368.8" y2="1367.7" stroke-width="2" />
<rect x="1321.1" y="1415.4" width="47.7" height="16.4" rx="0" stroke-width="2.5" fill="none" />
<line x1="1321.1" y1="1420" x2="1368.8" y2="1420" stroke-width="2" />
<rect x="1707.6" y="1356.5" width="47.7" height="14.9" rx="0" stroke-width="2.5" fill="none" />
<line x1="1707.6" y1="1367.7" x2="1755.3" y2="1367.7" stroke-width="2" />
<rect x="1707.6" y="1415.4" width="47.7" height="16.4" rx="0" stroke-width="2.5" fill="none" />
<line x1="1707.6" y1="1420" x2="1755.3" y2="1420" stroke-width="2" />
<rect x="1289.5" y="1333" width="109.9" height="23.5" rx="11.75" stroke-width="2.5" fill="#fff" />
<rect x="1289.5" y="1431.8" width="109.9" height="23.5" rx="11.75" stroke-width="2.5" fill="#fff" />
<rect x="1677" y="1333" width="108.2" height="23.5" rx="11.75" stroke-width="2.5" fill="#fff" />
<rect x="1677" y="1431.8" width="108.2" height="23.5" rx="11.75" stroke-width="2.5" fill="#fff" />
<rect x="1409.8" y="1357.3" width="89.1" height="14.9" rx="0" stroke-width="2.5" fill="none" />
<rect x="1572" y="1357.3" width="89.4" height="14.9" rx="0" stroke-width="2.5" fill="none" />
<rect x="1409.8" y="1415.4" width="89.1" height="16.4" rx="0" stroke-width="2.5" fill="none" />
<rect x="1572" y="1415.4" width="89.4" height="16.4" rx="0" stroke-width="2.5" fill="none" />
<line x1="1498.9" y1="1420.6" x2="1572" y2="1420.6" stroke-width="2" />
<rect x="1279.4" y="1372.2" width="518.8" height="43.2" rx="0" stroke-width="3" fill="#fff" />
<path d="M1279.4,1386.5 H1314.4 V1372.2 M1279.4,1401.7 H1314.4 V1415.4" stroke-width="2.5" fill="none" />
<path d="M1798.2,1386.5 H1762.4 V1372.2 M1798.2,1401.8 H1762.4 V1415.4" stroke-width="2.5" fill="none" />
<rect x="1387.5" y="1390.8" width="21.2" height="7.5" rx="3.75" stroke-width="2.2" fill="none" />
<rect x="1666.6" y="1390.8" width="20.9" height="7.5" rx="3.75" stroke-width="2.2" fill="none" />
<rect x="1507.5" y="1386.4" width="57.8" height="16" rx="0" stroke-width="2.5" fill="none" />
<path d="M1797.9,1405.1 H1812 C1827,1405.1 1846,1414 1857.7,1431.2 L1903.2,1497.9 L1890,1507 L1843.6,1436.2 C1836,1426.5 1826,1420.9 1812.9,1420.9 H1761" stroke-width="2.5" fill="none" />
<g id="sidehalf"><path d="M1538.4,1561.4 H1284.4 Q1279.4,1561.4 1279.4,1566.4 V1641 Q1279.4,1646 1284.4,1646 H1339.7" stroke-width="2.5" fill="none"/>
<path d="M1339.7,1646 H1405.3 V1687.6 H1339.7 Z" stroke-width="2.5" fill="none"/>
<path d="M1349.9,1687.6 V1711.2 H1400 Q1404.8,1711.2 1404.8,1716 V1735.7" stroke-width="2.5" fill="none"/>
<path d="M1390.4,1568.1 H1499.1" stroke-width="2.5" fill="none"/>
<path d="M1413,1568.1 V1616 Q1413,1625.1 1422,1625.1 H1490 Q1499.1,1625.1 1499.1,1616 V1568.1" stroke-width="2.5" fill="none"/>
<path d="M1467.4,1625.1 V1699 A15.85,15.85 0 0 0 1499.1,1699 V1616" stroke-width="2.5" fill="none"/>
<rect x="1420.3" y="1575.9" width="71.5" height="42" rx="5" stroke-width="2.6" fill="none"/>
<circle cx="1344.6" cy="1600.7" r="55" stroke-width="2.6" fill="#fff"/>
<circle cx="1344.6" cy="1600.7" r="22.7" stroke-width="2.6" fill="none"/>
<circle cx="1344.6" cy="1600.7" r="14.6" stroke-width="2.4" fill="none"/>
<circle cx="1344.6" cy="1600.7" r="9.6" stroke-width="2.4" fill="none"/></g>
<use href="#sidehalf" transform="translate(3076.8,0) scale(-1,1)"/>
<line x1="1538.4" y1="1561.4" x2="1538.4" y2="1735.7" stroke-width="3" />
<path d="M1871.3,1735.6 H895.7 A40,40 0 0 0 855.7,1775.6 V1795.2 A40,40 0 0 0 895.7,1835.2 H1871.3 A33.6,33.6 0 0 0 1904.9,1801.6 V1769.2 A33.6,33.6 0 0 0 1871.3,1735.6 Z" stroke-width="2.5" fill="none" />
<path d="M1845.4,1735.6 A38.5,38.5 0 0 1 1884.2,1774 V1797 A38.5,38.5 0 0 1 1845.4,1835.2" stroke-width="2.5" fill="none" />
<line x1="1232" y1="1735.6" x2="1232" y2="1835.2" stroke-width="2.5" />
<line x1="1388.5" y1="1735.6" x2="1388.5" y2="1835.2" stroke-width="2.5" />
<line x1="1797.9" y1="1735.6" x2="1797.9" y2="1835.2" stroke-width="2.5" />
<circle cx="902.9" cy="1785.4" r="25.8" stroke-width="2.5" fill="none" />
<circle cx="1151.9" cy="1785.4" r="25.8" stroke-width="2.5" fill="none" />
<circle cx="1538.5" cy="1785.4" r="25.8" stroke-width="2.5" fill="none" />
<ellipse cx="1270.5" cy="1785.4" rx="17" ry="26" stroke-width="2.5" fill="none" />
<path d="M1279.8,1764.1 Q1266,1785.4 1279.8,1806.7" stroke-width="2.3" fill="none" />
<ellipse cx="1848" cy="1785.4" rx="17" ry="26" stroke-width="2.5" fill="none" />
<path d="M1857.3,1764.1 Q1843.5,1785.4 1857.3,1806.7" stroke-width="2.3" fill="none" />
<circle cx="1454.7" cy="1785.4" r="23" stroke-width="2.5" fill="none" />
<path d="M1451.4,1772 H1458 V1778.1 Q1458,1782.1 1462,1782.1 H1468.1 V1788.7 H1462 Q1458,1788.7 1458,1792.7 V1798.8 H1451.4 V1792.7 Q1451.4,1788.7 1447.4,1788.7 H1441.3 V1782.1 H1447.4 Q1451.4,1782.1 1451.4,1778.1 Z" stroke-width="2.3" fill="none" />
<circle cx="1629.8" cy="1785.4" r="23" stroke-width="2.5" fill="none" />
<path d="M1626.5,1772 H1633.1 V1778.1 Q1633.1,1782.1 1637.1,1782.1 H1643.2 V1788.7 H1637.1 Q1633.1,1788.7 1633.1,1792.7 V1798.8 H1626.5 V1792.7 Q1626.5,1788.7 1622.5,1788.7 H1616.4 V1782.1 H1622.5 Q1626.5,1782.1 1626.5,1778.1 Z" stroke-width="2.3" fill="none" />
<line x1="798.5" y1="1735.7" x2="798.5" y2="1835.1" stroke-width="1.2" />
<path d="M798.8,1735.7 L801.2,1746.7 L796.4,1746.7 Z" fill="#000" stroke="none"/>
<path d="M798.8,1835.1 L796.4,1824.1 L801.2,1824.1 Z" fill="#000" stroke="none"/>
<line x1="783.3" y1="1735.5" x2="856.3" y2="1735.5" stroke-width="1.2" />
<line x1="783.3" y1="1835.5" x2="856.3" y2="1835.5" stroke-width="1.2" />
<text class="d" x="778.6" y="1793.88" font-size="29" text-anchor="middle" textLength="28.4" lengthAdjust="spacingAndGlyphs" transform="rotate(-90 778.6 1783.9)">13</text>
<line x1="856.3" y1="1905.5" x2="1904.5" y2="1905.5" stroke-width="1.2" />
<path d="M856.3,1905 L867.3,1902.6 L867.3,1907.4 Z" fill="#000" stroke="none"/>
<path d="M1904.5,1905 L1893.5,1907.4 L1893.5,1902.6 Z" fill="#000" stroke="none"/>
<line x1="856.5" y1="1848.4" x2="856.5" y2="1923" stroke-width="1.2" />
<line x1="1904.5" y1="1848.4" x2="1904.5" y2="1923" stroke-width="1.2" />
<text class="d" x="1340.1" y="1898.7" font-size="29" text-anchor="start" textLength="41.7" lengthAdjust="spacingAndGlyphs" >130</text>
</g>
</svg></body></html>
